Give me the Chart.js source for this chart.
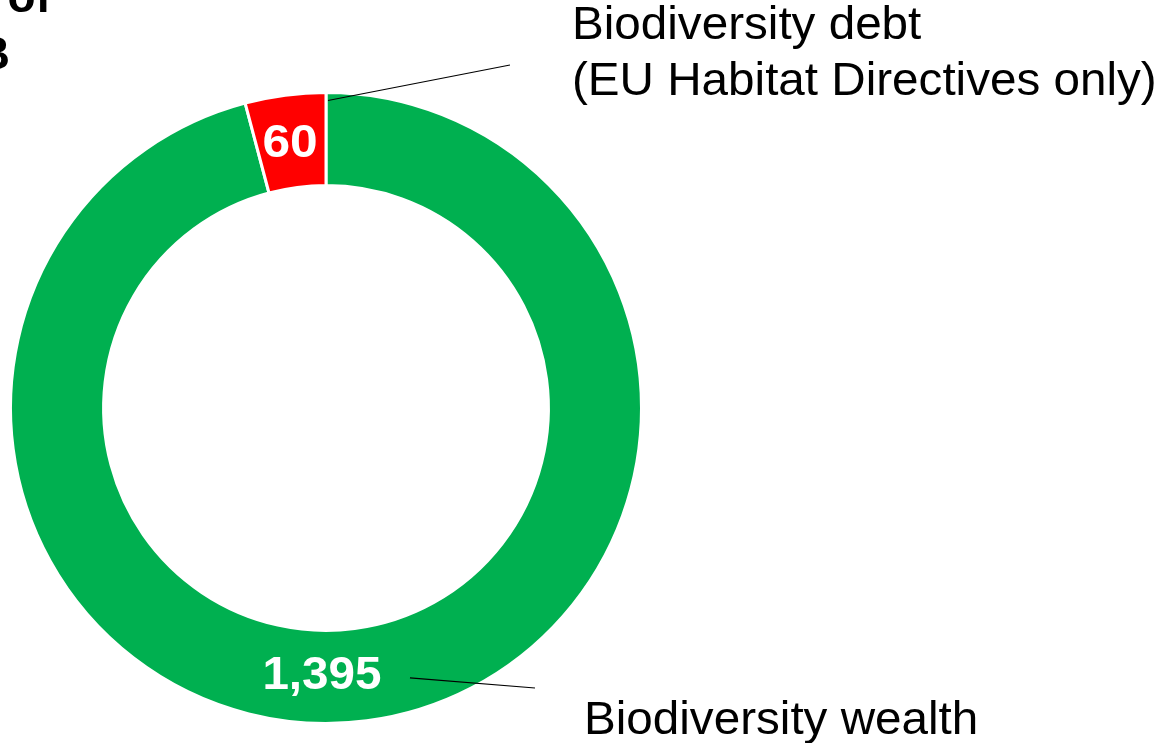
<!DOCTYPE html>
<html>
<head>
<meta charset="utf-8">
<script src="https://cdn.jsdelivr.net/npm/chart.js@4"></script>
<style>
  html, body { margin: 0; padding: 0; background: #fff; }
  #wrap { position: relative; width: 1162px; height: 743px; }
</style>
</head>
<body>
<div id="wrap"><canvas id="grafico" width="1162" height="743"></canvas></div>
<script>
// dados
const categorias = ['Biodiversity wealth', 'Biodiversity debt'];
const valores = [1395, 60];
const rotulosValor = ['1,395', '60'];
const cores = ['#00B050', '#FF0000'];
const rotulosFora = [['Biodiversity wealth'], ['Biodiversity debt', '(EU Habitat Directives only)']];

const fonte = '"Liberation Sans", Arial, sans-serif';

function texto(ctx, t, x, y, esticar) {
    ctx.save();
    ctx.translate(x, y);
    ctx.scale(esticar, 1);
    ctx.fillText(t, 0, 0);
    ctx.restore();
}

// rótulos, linhas de chamada e título cortado
const pluginRotulos = {
    id: 'rotulos',
    afterDraw(chart) {
        const ctx = chart.ctx;
        const arcos = chart.getDatasetMeta(0).data;
        const cx = arcos[0].x, cy = arcos[0].y;
        const rOut = arcos[0].outerRadius, rIn = arcos[0].innerRadius;
        const rMeio = (rOut + rIn) / 2;

        ctx.save();
        // valores dentro do anel
        ctx.fillStyle = '#fff';
        ctx.font = 'bold 46px ' + fonte;
        ctx.textAlign = 'center';
        ctx.textBaseline = 'alphabetic';
        const debt = arcos[1];
        const aDebt = (debt.startAngle + debt.endAngle) / 2;
        texto(ctx, rotulosValor[1], cx + Math.cos(aDebt) * (rOut - 45) - 1, cy + Math.sin(aDebt) * (rOut - 45) + 17, 1.08);
        const aWealth = Math.PI / 2 + 0.015;
        const pW = { x: cx + Math.cos(aWealth) * rMeio, y: cy + Math.sin(aWealth) * rMeio };
        texto(ctx, rotulosValor[0], pW.x, pW.y + 12, 1.035);

        // linhas de chamada
        ctx.strokeStyle = '#000';
        ctx.lineWidth = 1.2;
        ctx.beginPath();
        const aFim = debt.endAngle;
        ctx.moveTo(cx + Math.cos(aFim) * (rOut - 8) + 2, cy + Math.sin(aFim) * (rOut - 8));
        ctx.lineTo(cx + 184, cy - 343);
        ctx.moveTo(pW.x + 88, pW.y + 1);
        ctx.lineTo(cx + 209, cy + 280);
        ctx.stroke();

        // textos externos
        ctx.fillStyle = '#000';
        ctx.font = '46px ' + fonte;
        ctx.textAlign = 'left';
        texto(ctx, rotulosFora[1][0], cx + 246, cy - 369, 1.035);
        texto(ctx, rotulosFora[1][1], cx + 246, cy - 313, 1.035);
        texto(ctx, rotulosFora[0][0], cx + 258, cy + 326, 1.035);

        // título cortado no canto
        ctx.font = 'bold 46px ' + fonte;
        ctx.textAlign = 'right';
        texto(ctx, 'of', 51, 12, 1.0);
        texto(ctx, 'B', 10, 69, 1.0);
        ctx.restore();
    }
};

const ctx = document.getElementById('grafico').getContext('2d');
new Chart(ctx, {
    type: 'doughnut',
    data: {
        labels: categorias,
        datasets: [{
            data: valores,
            backgroundColor: cores,
            borderColor: '#ffffff',
            borderWidth: 3,
            hoverOffset: 0
        }]
    },
    options: {
        responsive: false,
        animation: false,
        cutout: '70.5%',
        rotation: 0,
        layout: { padding: { left: 9, right: 519, top: 91, bottom: 18 } },
        plugins: {
            legend: { display: false },
            tooltip: { enabled: false }
        }
    },
    plugins: [pluginRotulos]
});
</script>
</body>
</html>
